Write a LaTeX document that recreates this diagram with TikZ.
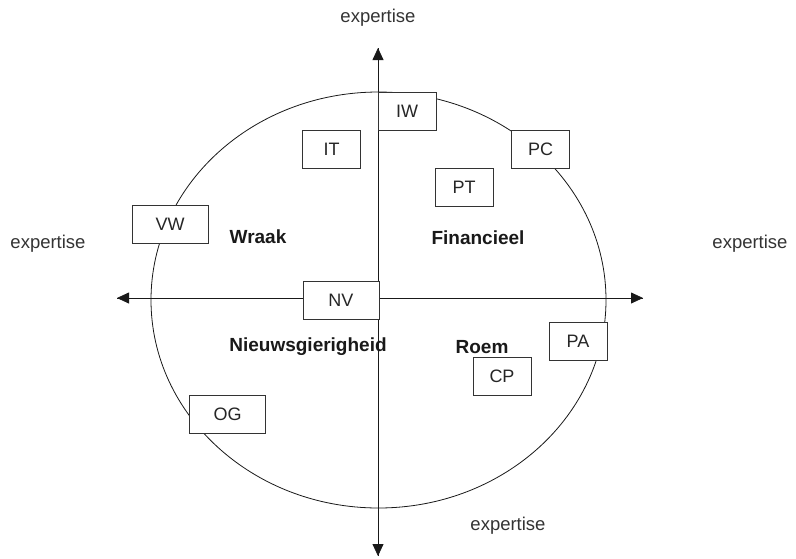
\documentclass[tikz,border=0pt]{standalone}
\usepackage{fontspec}
\setmainfont{Liberation Sans}
\usetikzlibrary{arrows.meta}
\begin{document}
\begin{tikzpicture}[
    x=1pt, y=-1pt,
    motive/.style={
        rectangle,
        draw=black!80,
        fill=white,
        line width=0.8pt,
        minimum width=58pt,
        minimum height=38pt,
        inner sep=0pt,
        text=black!85,
        font=\fontsize{18}{20}\selectfont
    },
    widemotive/.style={
        motive,
        minimum width=76pt
    },
    quadrant/.style={
        font=\fontsize{19}{21}\selectfont\bfseries,
        text=black!90
    },
    axislabel/.style={
        font=\fontsize{18.5}{20}\selectfont,
        text=black!80
    },
    axis/.style={
        -{Triangle[length=12pt,width=11pt]},
        line width=0.8pt,
        black!90
    }
]
\useasboundingbox (0,0) rectangle (796,558);

% circle and axes
\coordinate (centre) at (378.5,300);
\draw[line width=0.8pt, black!90] (centre) ellipse [x radius=227.5pt, y radius=208pt];

\coordinate (west) at (117,298);
\coordinate (east) at (643,298);
\coordinate (north) at (378,48);
\coordinate (south) at (378,556);
\draw[axis] (east) -- (west);
\draw[axis] (west) -- (east);
\draw[axis] (south) -- (north);
\draw[axis] (north) -- (south);

% motives
\node[motive] (iw) at (407,111) {IW};
\node[motive] (it) at (331.5,149) {IT};
\node[motive] (pc) at (540.5,149) {PC};
\node[motive] (pt) at (464,187) {PT};
\node[widemotive] (vw) at (170,224.5) {VW};
\node[widemotive] (nv) at (341,300.5) {NV};
\node[motive] (pa) at (578,341) {PA};
\node[motive] (cp) at (502,376) {CP};
\node[widemotive] (og) at (227.5,414) {OG};

% quadrants
\node[quadrant] (wraak) at (258,237) {Wraak};
\node[quadrant] (financieel) at (478,238) {Financieel};
\node[quadrant] (nieuwsgierig) at (308,347) {Nieuwsgierigheid};
\node[quadrant] (roem) at (482,347) {Roem};

% axis labels
\node[axislabel] (top) at (378,18) {expertise};
\node[axislabel] (left) at (48,244) {expertise};
\node[axislabel] (right) at (750,244) {expertise};
\node[axislabel] (bottom) at (508,526) {expertise};

\end{tikzpicture}
\end{document}
